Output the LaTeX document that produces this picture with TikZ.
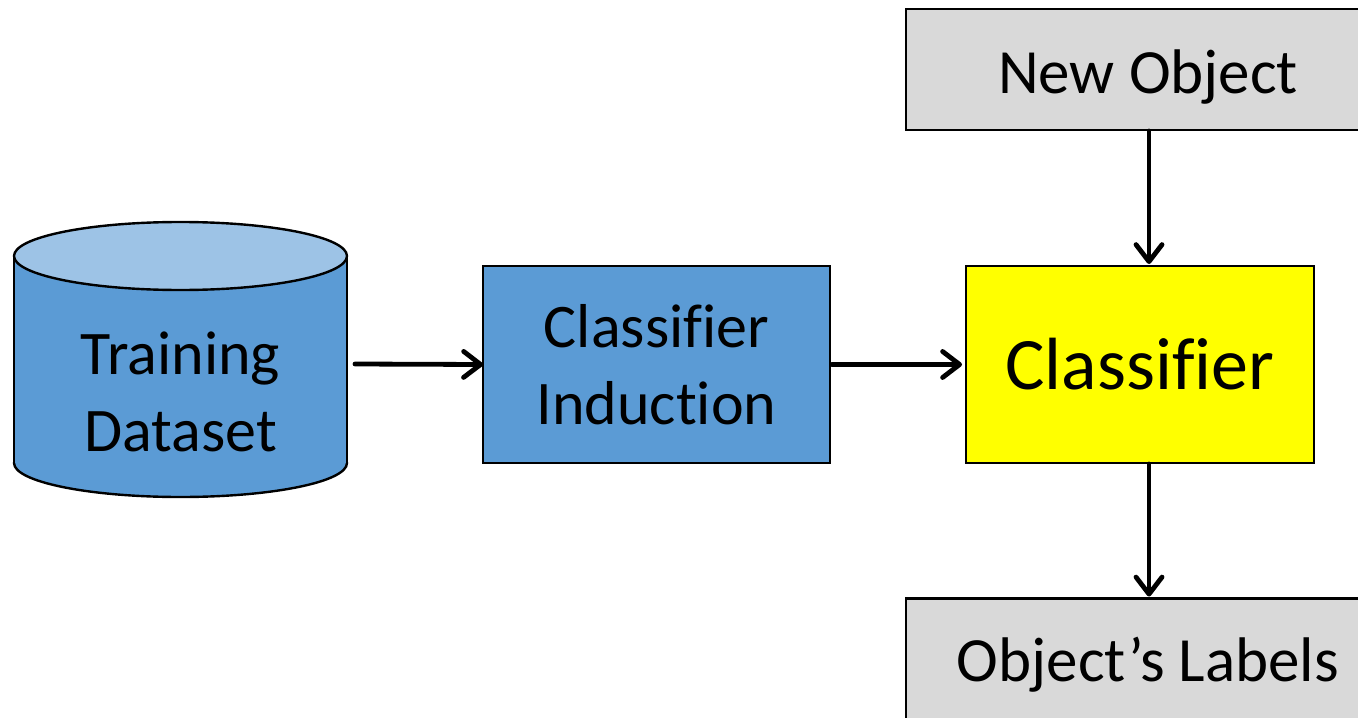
\documentclass[tikz,border=0pt]{standalone}
\usepackage{fontspec}
\setmainfont{Carlito}[RawFeature={-liga}]
\usetikzlibrary{arrows.meta}
\definecolor{cylblue}{HTML}{5B9BD5}
\definecolor{cyltop}{HTML}{9DC3E6}
\definecolor{boxgrey}{HTML}{D9D9D9}
\definecolor{clsyellow}{HTML}{FFFF00}
\tikzset{
  outline/.style={draw=black, line width=1.2pt},
  stagebox/.style={outline, rectangle, inner sep=0pt, outer sep=0pt, align=center,
    font=\fontsize{31pt}{38.5pt}\selectfont},
  flow/.style={line width=2.4pt, line cap=round,
    -{Straight Barb[length=8.5pt, width=13pt, line cap=round, line join=round]}},
}
\begin{document}
\begin{tikzpicture}[x=0.5pt, y=-0.5pt]
  \useasboundingbox (0,0) rectangle (1358,717);
  \clip (0,0) rectangle (1358,717);

  % database cylinder
  \draw[outline, fill=cylblue] (180.5,463) ellipse [x radius=166.5, y radius=34];
  \fill[cylblue] (14,256) rectangle (347,463);
  \draw[outline] (14,256) -- (14,463) (347,256) -- (347,463);
  \draw[outline, fill=cyltop] (180.5,256) ellipse [x radius=166.5, y radius=34];
  \node[align=center, inner sep=0pt, minimum width=166.5pt, minimum height=80pt,
        font=\fontsize{31pt}{38.5pt}\selectfont] (data) at (180.5,392)
        {Training\\Dataset};

  % processing stages
  \node[stagebox, fill=cylblue, minimum width=173.5pt, minimum height=98.5pt]
        (ind) at (656.5,364.5) {Classif\kern0pt ier\\Induction};
  \node[stagebox, fill=clsyellow, minimum width=174pt, minimum height=98.5pt,
        font=\fontsize{37pt}{44pt}\selectfont]
        (cls) at (1140,364.5) {Classif\kern0pt ier};
  \node[stagebox, fill=boxgrey, minimum width=242pt, minimum height=60.5pt,
        font=\fontsize{31.5pt}{38.5pt}\selectfont]
        (obj) at (1148,69.5) {\raisebox{-4pt}[\height][\depth]{New Object}};
  \node[stagebox, fill=boxgrey, minimum width=242pt, minimum height=60.5pt,
        font=\fontsize{31.5pt}{38.5pt}\selectfont]
        (lab) at (1148,659) {\raisebox{-3pt}[\height][\depth]{Object’s Labels}};

  % connectors
  \draw[flow] (355,364) coordinate (dsout) -- (ind.west);
  \draw[flow] ([xshift=1pt]ind.east) -- ([xshift=-2pt]cls.west);
  \draw[flow] (obj.south -| 1149,0) ++(0,1) -- ([yshift=1pt]cls.north -| 1149,0);
  \draw[flow] (cls.south -| 1149,0) ++(0,1) -- ([yshift=1pt]lab.north -| 1149,0);
\end{tikzpicture}
\end{document}
